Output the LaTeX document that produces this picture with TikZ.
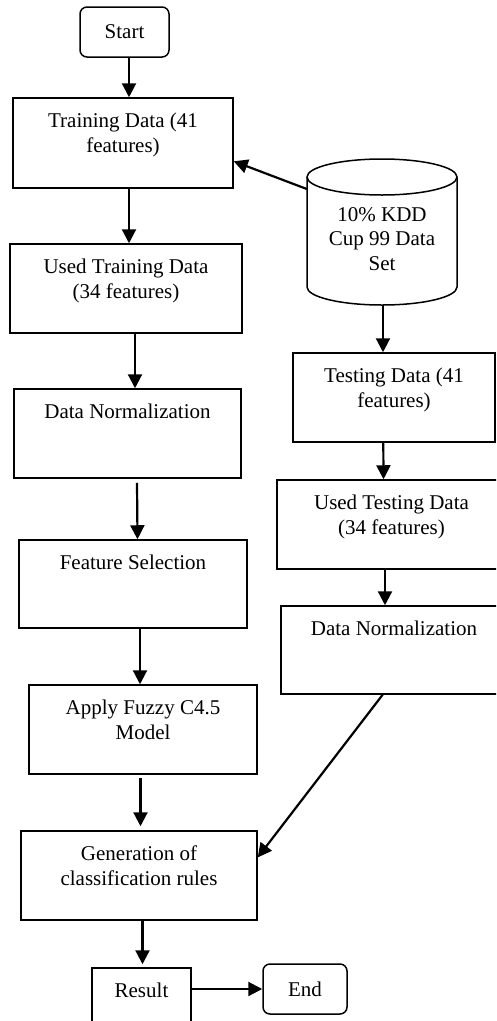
\documentclass[tikz,border=0pt]{standalone}
\usepackage{fontspec}
\setmainfont{Liberation Serif}
\usetikzlibrary{arrows.meta,calc}
\begin{document}
\begin{tikzpicture}[x=1pt,y=1pt,
  box/.style={draw, line width=1.5pt, inner sep=0pt},
  rbox/.style={box, rounded corners=7pt},
  txt/.style={anchor=north, inner sep=0pt, align=center, font=\fontsize{21}{24.5}\selectfont},
  stxt/.style={inner sep=0pt, font=\fontsize{21}{24.5}\selectfont},
  arr/.style={-{Triangle[length=14pt,width=14pt]}, line width=2.2pt},
  tdown/.style={yshift=-13.2pt}]
\useasboundingbox (0,0) rectangle (496,-1021);
\clip (0,0) rectangle (496,-1021);

% left column boxes
\node[rbox, minimum width=89pt, minimum height=50pt] (start) at (124.5,-32) {};
\node[stxt] (startT) at (start.center) {Start};
\node[box, minimum width=220pt, minimum height=90pt] (train) at (123,-143) {};
\node[txt] (trainT) at ([tdown]train.north) {\strut Training Data (41\\features)};
\node[box, minimum width=232pt, minimum height=89pt] (utrain) at (126,-288.5) {};
\node[txt] (utrainT) at ([tdown]utrain.north) {\strut Used Training Data\\(34 features)};
\node[box, minimum width=227pt, minimum height=89pt] (dn1) at (127.5,-433.5) {};
\node[txt] (dn1T) at ([tdown]dn1.north) {\strut Data Normalization};
\node[box, minimum width=228pt, minimum height=88pt] (fs) at (133,-584) {};
\node[txt] (fsT) at ([tdown]fs.north) {\strut Feature Selection};
\node[box, minimum width=228pt, minimum height=89pt] (af) at (143,-729.5) {};
\node[txt] (afT) at ([tdown]af.north) {\strut Apply Fuzzy C4.5\\Model};
\node[box, minimum width=236pt, minimum height=89pt] (gen) at (139,-875.5) {};
\node[txt] (genT) at ([tdown]gen.north) {\strut Generation of\\classification rules};
\node[box, minimum width=99pt, minimum height=64pt] (result) at (141.5,-1000) {};
\node[txt] (resultT) at ([tdown]result.north) {\strut Result};
\node[rbox, minimum width=84pt, minimum height=50pt] (end) at (305,-989) {};
\node[stxt] (endT) at (end.center) {End};

% right column
\node[inner sep=0pt, minimum width=150pt, minimum height=146pt] (kdd) at (382,-232) {};
\draw[box] (307,-177) -- (307,-287) arc[start angle=180, end angle=360, x radius=75pt, y radius=18pt] -- (457,-177);
\draw[box] (382,-177) ellipse [x radius=75pt, y radius=18pt];
\node[txt] (kddT) at (382,-204) {\strut 10\% KDD\\Cup 99 Data\\Set};
\node[box, minimum width=202pt, minimum height=89pt] (test) at (394,-397.5) {};
\node[txt] (testT) at ([tdown]test.north) {\strut Testing Data (41\\features)};
\node[box, minimum width=229pt, minimum height=89pt] (utest) at (391.5,-524.5) {};
\node[txt] (utestT) at ([tdown]utest.north) {\strut Used Testing Data\\(34 features)};
\node[box, minimum width=226pt, minimum height=88pt] (dn2) at (394,-650) {};
\node[txt] (dn2T) at ([tdown]dn2.north) {\strut Data Normalization};

% connectors
\draw[arr] ([xshift=4.5pt]start.south) -- ([xshift=6pt]train.north);
\draw[arr] ([xshift=6pt]train.south) -- ([xshift=3pt]utrain.north);
\draw[arr] ([xshift=9pt]utrain.south) -- ([xshift=7.5pt]dn1.north);
\draw[arr] ([xshift=9.5pt,yshift=-4pt]dn1.south) -- ([xshift=4.5pt]fs.north);
\draw[arr] ([xshift=7pt]fs.south) -- ([xshift=-3pt]af.north);
\draw[arr] ([xshift=-2.5pt,yshift=-3pt]af.south) -- ([xshift=1.5pt,yshift=4pt]gen.north);
\draw[arr] ([xshift=3.5pt]gen.south) -- ([xshift=1pt,yshift=3pt]result.north);
\draw[arr] (result.east |- end.west) -- (end.west);
\draw[arr] ([yshift=43pt]kdd.west) -- ($(train.north east)!0.7!(train.south east)$);
\draw[arr] ([xshift=1pt]kdd.south) -- ([xshift=-11pt]test.north);
\draw[arr] ([xshift=-10.7pt]test.south) -- ([xshift=-8pt]utest.north);
\draw[arr] ([xshift=-6.5pt]utest.south) -- ([xshift=-9pt]dn2.north);
\draw[arr] ($(dn2.south west)!0.45!(dn2.south east)$) -- ($(gen.north east)!0.3!(gen.south east)$);
\end{tikzpicture}
\end{document}
